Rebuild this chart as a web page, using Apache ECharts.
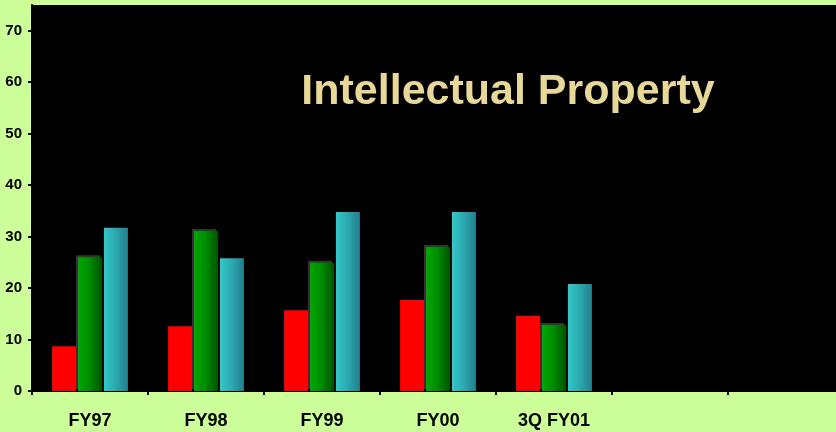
<!DOCTYPE html>
<html>
<head>
<meta charset="utf-8">
<script src="https://cdn.jsdelivr.net/npm/echarts@6/dist/echarts.min.js"></script>
<style>
html,body{margin:0;padding:0;background:#ccff99;overflow:hidden;}
#c{width:844px;height:432px;}
</style>
</head>
<body>
<div id="c"></div>
<script>
const categories = ['FY97', 'FY98', 'FY99', 'FY00', '3Q FY01', '', ''];
const redValues = [8.7, 12.6, 15.7, 17.7, 14.6];
const greenValues = [26.0, 31.1, 24.9, 28.0, 12.8];
const cyanValues = [31.7, 25.8, 34.8, 34.8, 20.8];
const titleText = 'Intellectual Property';

const chart = echarts.init(document.getElementById('c'), null, {renderer: 'canvas'});
const fontFam = '"Liberation Sans", Arial, sans-serif';
chart.setOption({
  backgroundColor: '#ccff99',
  animation: false,
  title: {
    text: titleText,
    left: 503, top: 66, textAlign: 'center',
    textStyle: {color: '#e8d898', fontSize: 43, fontWeight: 'bold', fontFamily: fontFam}
  },
  grid: {
    left: 32, top: 5, right: 0, bottom: 41,
    show: true, backgroundColor: '#000000', borderWidth: 0
  },
  xAxis: {
    type: 'category',
    data: categories,
    axisLine: {show: true, lineStyle: {color: '#000', width: 2}},
    axisTick: {show: true, length: 4, alignWithLabel: false, lineStyle: {color: '#000', width: 2}},
    axisLabel: {color: '#000', fontSize: 18, fontWeight: 'bold', fontFamily: fontFam, margin: 21}
  },
  yAxis: {
    type: 'value',
    min: 0, max: 75, interval: 10,
    splitLine: {show: false},
    axisLine: {show: true, lineStyle: {color: '#000', width: 2}},
    axisTick: {show: true, length: 4, lineStyle: {color: '#000', width: 2}},
    axisLabel: {color: '#000', fontSize: 15, fontWeight: 'bold', fontFamily: fontFam, margin: 10, showMaxLabel: false}
  },
  series: [
    {
      type: 'bar', data: redValues, barWidth: 24, barGap: '8%',
      itemStyle: {color: '#ff0000'}
    },
    {
      type: 'bar', data: greenValues, barWidth: 24, barGap: '8%',
      itemStyle: {
        color: new echarts.graphic.LinearGradient(0, 0, 1, 0, [
          {offset: 0, color: '#00a800'}, {offset: 0.5, color: '#008a00'}, {offset: 1, color: '#005200'}
        ]),
        shadowColor: '#333333', shadowOffsetX: -2, shadowOffsetY: -2, shadowBlur: 0
      }
    },
    {
      type: 'bar', data: cyanValues, barWidth: 24, barGap: '8%',
      itemStyle: {
        color: new echarts.graphic.LinearGradient(0, 0, 1, 0, [
          {offset: 0, color: '#33c8c8'}, {offset: 0.5, color: '#2aa8b0'}, {offset: 1, color: '#247f8c'}
        ])
      }
    }
  ]
});
</script>
</body>
</html>
